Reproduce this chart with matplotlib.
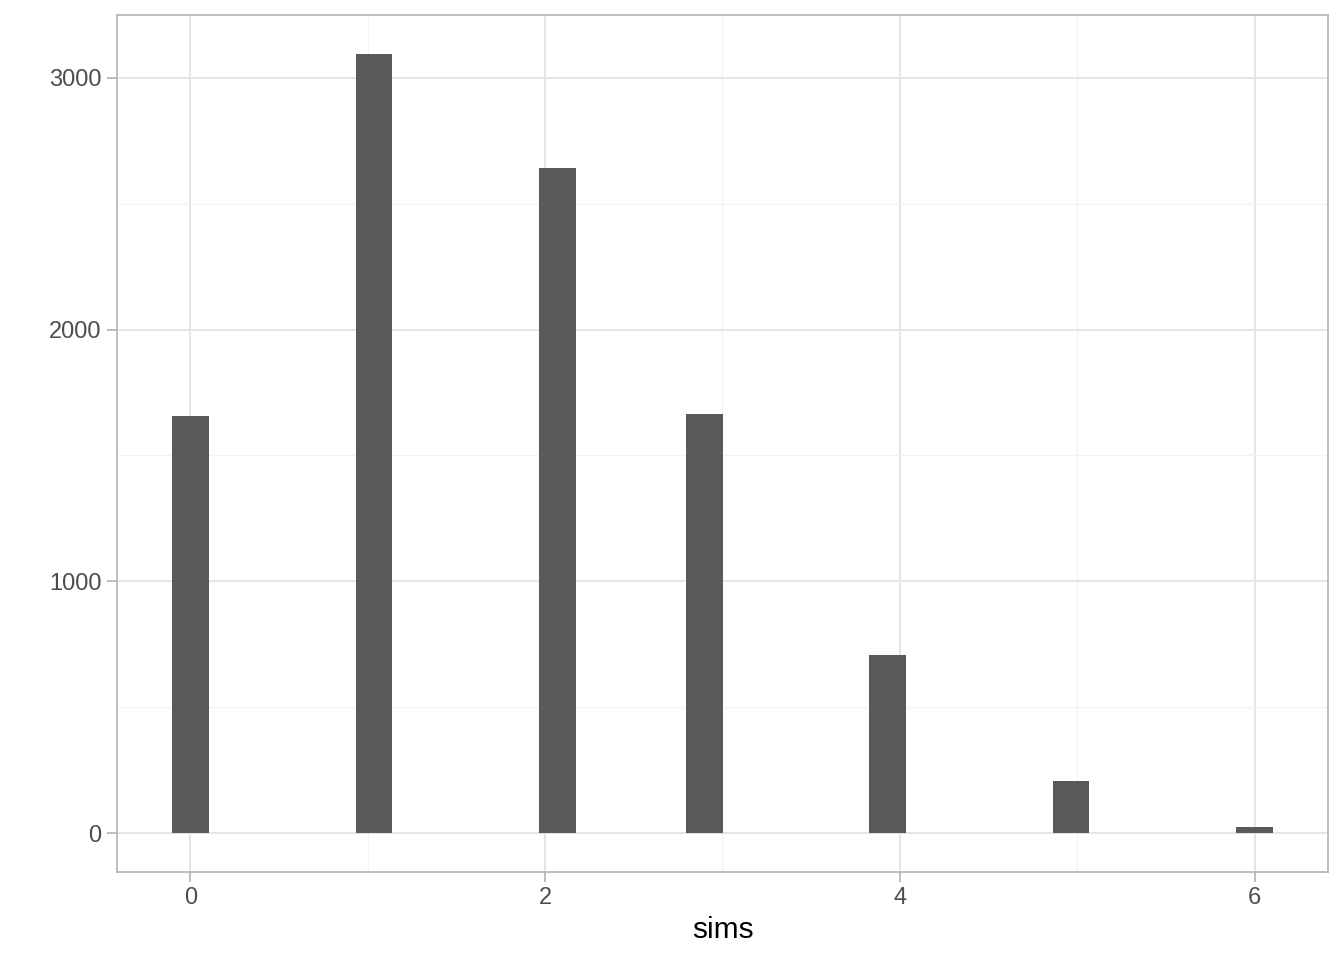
import numpy as np
import matplotlib
matplotlib.use("Agg")
import matplotlib.pyplot as plt

plt.rcParams['font.family'] = ['Liberation Sans', 'DejaVu Sans']

# data: outcome values and their counts
sims_values = [0, 1, 2, 3, 4, 5, 6]
counts = [1655, 3095, 2643, 1663, 706, 206, 24]
x_ticks = [0, 2, 4, 6]
y_ticks = [0, 1000, 2000, 3000]
x_label = "sims"

n_bins = 30
width = (max(sims_values) - min(sims_values)) / (n_bins - 1)
# right-closed bins (as in ggplot2): nudge edges up slightly
edges = min(sims_values) + (np.arange(n_bins + 1) - 0.5) * width + 1e-9

fig = plt.figure(figsize=(13.44, 9.6), dpi=100)
ax = fig.add_axes([117 / 1344, 1 - 872 / 960, (1328 - 117) / 1344, (872 - 15) / 960])

ax.hist(sims_values, bins=edges, weights=counts, color="#595959", edgecolor="none", zorder=3)

xmin, xmax = edges[0], edges[-1]
xr = xmax - xmin
ax.set_xlim(xmin - 0.05 * xr, xmax + 0.05 * xr)
ymax = max(counts)
ax.set_ylim(-0.05 * ymax, ymax * 1.05)

ax.set_xticks(x_ticks)
ax.set_yticks(y_ticks)
ax.set_xticks([1, 3, 5], minor=True)
ax.set_yticks([500, 1500, 2500], minor=True)
ax.grid(which="major", color="#E5E5E5", linewidth=1.4, zorder=0)
ax.grid(which="minor", color="#F2F2F2", linewidth=0.8, zorder=0)
ax.set_axisbelow(True)

for s in ax.spines.values():
    s.set_color("#B3B3B3")
    s.set_linewidth(1.2)

ax.tick_params(which="major", length=7, width=1.2, color="#B3B3B3",
               labelsize=17, labelcolor="#4D4D4D", pad=4)
ax.tick_params(which="minor", length=0)
ax.set_xlabel(x_label, fontsize=21.5, color="black", labelpad=5)

fig.savefig("out.png", dpi=100, facecolor="white")
